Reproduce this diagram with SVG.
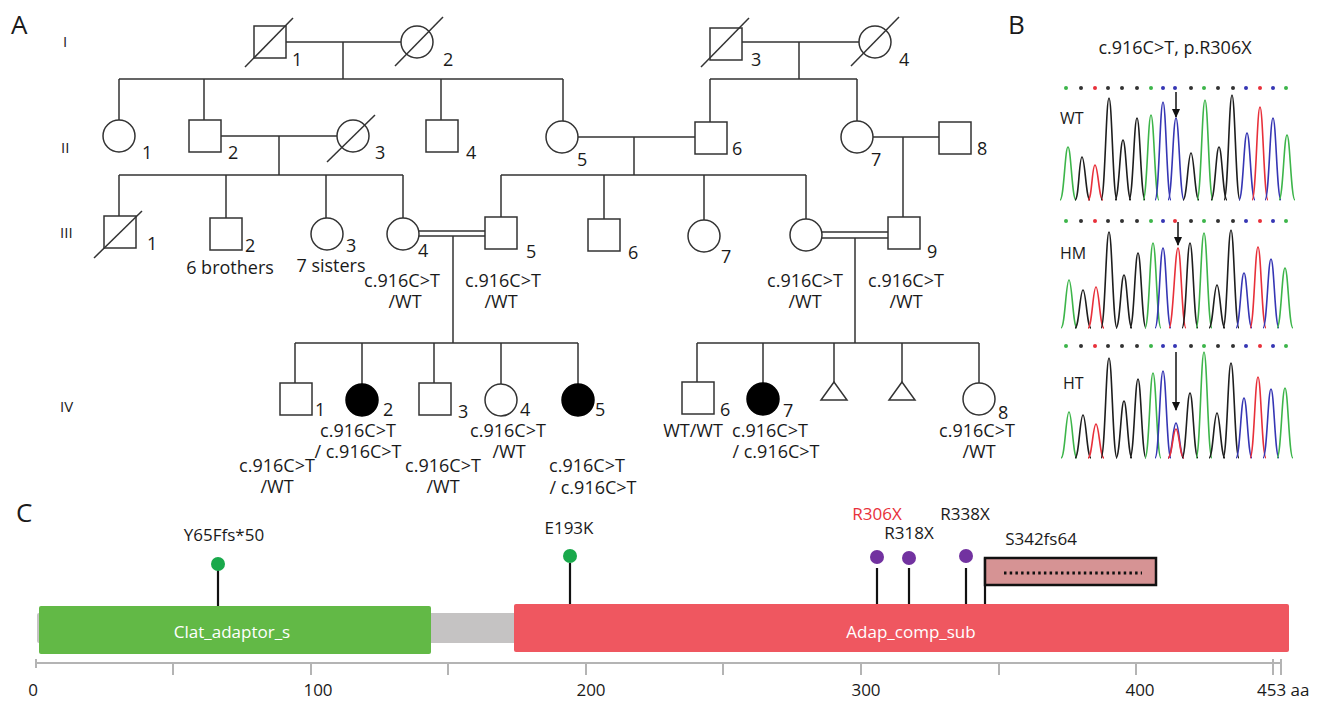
<svg xmlns="http://www.w3.org/2000/svg" width="1322" height="701" viewBox="0 0 1322 701">
<style>
text{font-family:"Open Sans","Noto Sans","Liberation Sans",sans-serif;fill:#1a1a1a}
.sym{fill:#fff;stroke:#333;stroke-width:1.5}
.aff{fill:#000;stroke:#000;stroke-width:1.5}
.ln{fill:none;stroke:#333;stroke-width:1.5}
.t{font-size:18px}
.n{font-size:18px}
.gen{font-size:15px}
.pl{font-size:26px}
.c{text-anchor:middle}
.pk{fill:none;stroke-width:1.6;stroke-linejoin:round}
.A{stroke:#3db54a}.G{stroke:#1e1e1e}.T{stroke:#e8303a}.C{stroke:#3636b4}
.bA{fill:#3db54a}.bG{fill:#333}.bT{fill:#e8303a}.bC{fill:#3636b4}
.tl{font-size:16px}
.stem{stroke:#111;stroke-width:2.2}
.tick{stroke:#b4b4b4;stroke-width:2}
.lb{font-size:17px}
</style>
<defs>
<marker id="ah" markerWidth="9" markerHeight="8" refX="8" refY="4" orient="auto" markerUnits="userSpaceOnUse"><path d="M0,0 L9,4 L0,8 Z" fill="#111"/></marker>
</defs>

<!-- panel labels -->
<text class="pl" x="11" y="34">A</text>
<text class="pl" x="1008" y="34">B</text>
<text class="pl" x="16" y="522">C</text>

<!-- generation numerals -->
<text class="gen" x="63" y="47">I</text>
<text class="gen" x="61" y="153">II</text>
<text class="gen" x="60" y="238">III</text>
<text class="gen" x="60" y="412">IV</text>

<!-- connectors -->
<g id="connectors" class="ln">
<path d="M286,42H401 M343,42V79 M119,79H563 M119,79V120 M204,79V120 M441,79V120 M563,79V121"/>
<path d="M742,42H859 M799,42V79 M710,79H857 M710,79V122 M857,79V121"/>
<path d="M221,136H337 M279,136V175 M119,175H403 M119,175V216 M226,175V218 M326,175V218 M403,175V218"/>
<path d="M578,137H695 M634,137V175 M501,175H806 M501,175V217 M604,175V219 M704,175V220 M806,175V219"/>
<path d="M873,137H939 M903,137V217"/>
<path d="M419,231H485 M419,236H485 M453,236V343"/>
<path d="M822,232H888 M822,238H888 M855,238V343"/>
<path d="M295,343H578 M295,343V383 M362,343V384 M434,343V383 M501,343V384 M578,343V384"/>
<path d="M697,343H979 M697,343V382 M763,343V383 M834,343V382 M902,343V382 M979,343V383"/>
</g>

<!-- Generation I -->
<g id="I-1"><rect class="sym" x="254" y="26" width="32" height="32"/><line class="ln" x1="245" y1="67" x2="293" y2="18"/><text class="n" x="292" y="66">1</text></g>
<g id="I-2"><circle class="sym" cx="417" cy="42" r="16"/><line class="ln" x1="395" y1="66" x2="443" y2="17"/><text class="n" x="443" y="66">2</text></g>
<g id="I-3"><rect class="sym" x="710" y="28" width="32" height="32"/><line class="ln" x1="701" y1="67" x2="749" y2="18"/><text class="n" x="751" y="66">3</text></g>
<g id="I-4"><circle class="sym" cx="875" cy="42" r="16"/><line class="ln" x1="851" y1="66" x2="899" y2="17"/><text class="n" x="899" y="66">4</text></g>

<!-- Generation II -->
<g id="II-1"><circle class="sym" cx="119" cy="136" r="16"/><text class="n" x="142" y="159">1</text></g>
<g id="II-2"><rect class="sym" x="189" y="120" width="32" height="32"/><text class="n" x="228" y="159">2</text></g>
<g id="II-3"><circle class="sym" cx="353" cy="136" r="16"/><line class="ln" x1="327" y1="162" x2="375" y2="115"/><text class="n" x="375" y="159">3</text></g>
<g id="II-4"><rect class="sym" x="426" y="120" width="32" height="32"/><text class="n" x="466" y="159">4</text></g>
<g id="II-5"><circle class="sym" cx="562" cy="137" r="16"/><text class="n" x="577" y="166">5</text></g>
<g id="II-6"><rect class="sym" x="695" y="122" width="32" height="32"/><text class="n" x="732" y="155">6</text></g>
<g id="II-7"><circle class="sym" cx="857" cy="137" r="16"/><text class="n" x="871" y="166">7</text></g>
<g id="II-8"><rect class="sym" x="939" y="122" width="32" height="32"/><text class="n" x="977" y="155">8</text></g>

<!-- Generation III -->
<g id="III-1"><rect class="sym" x="104" y="216" width="32" height="32"/><line class="ln" x1="94" y1="258" x2="142" y2="211"/><text class="n" x="147" y="250">1</text></g>
<g id="III-2"><rect class="sym" x="210" y="218" width="32" height="32"/><text class="n" x="245" y="252">2</text><text class="t c" x="230" y="274">6 brothers</text></g>
<g id="III-3"><circle class="sym" cx="327" cy="234" r="16"/><text class="n" x="346" y="252">3</text><text class="t c" x="331" y="272">7 sisters</text></g>
<g id="III-4"><circle class="sym" cx="403" cy="234" r="16"/><text class="n" x="418" y="257">4</text><text class="t c" x="402" y="287">c.916C&gt;T</text><text class="t c" x="405" y="308">/WT</text></g>
<g id="III-5"><rect class="sym" x="485" y="217" width="32" height="32"/><text class="n" x="526" y="258">5</text><text class="t c" x="503" y="287">c.916C&gt;T</text><text class="t c" x="501" y="308">/WT</text></g>
<g id="III-6"><rect class="sym" x="588" y="219" width="32" height="32"/><text class="n" x="628" y="259">6</text></g>
<g id="III-7"><circle class="sym" cx="704" cy="236" r="16"/><text class="n" x="721" y="263">7</text></g>
<g id="III-8"><circle class="sym" cx="806" cy="235" r="16"/><text class="t c" x="805" y="287">c.916C&gt;T</text><text class="t c" x="805" y="308">/WT</text></g>
<g id="III-9"><rect class="sym" x="888" y="217" width="32" height="32"/><text class="n" x="927" y="258">9</text><text class="t c" x="906" y="287">c.916C&gt;T</text><text class="t c" x="906" y="308">/WT</text></g>

<!-- Generation IV -->
<g id="IV-1"><rect class="sym" x="280" y="383" width="32" height="32"/><text class="n" x="315" y="416">1</text><text class="t c" x="277" y="472">c.916C&gt;T</text><text class="t c" x="277" y="493">/WT</text></g>
<g id="IV-2"><circle class="aff" cx="362" cy="400" r="16"/><text class="n" x="383" y="416">2</text><text class="t c" x="358" y="437">c.916C&gt;T</text><text class="t c" x="358" y="458">/ c.916C&gt;T</text></g>
<g id="IV-3"><rect class="sym" x="419" y="383" width="32" height="32"/><text class="n" x="458" y="418">3</text><text class="t c" x="443" y="472">c.916C&gt;T</text><text class="t c" x="443" y="493">/WT</text></g>
<g id="IV-4"><circle class="sym" cx="501" cy="400" r="16"/><text class="n" x="520" y="416">4</text><text class="t c" x="508" y="437">c.916C&gt;T</text><text class="t c" x="509" y="458">/WT</text></g>
<g id="IV-5"><circle class="aff" cx="578" cy="400" r="16"/><text class="n" x="595" y="416">5</text><text class="t c" x="587" y="472">c.916C&gt;T</text><text class="t c" x="593" y="494">/ c.916C&gt;T</text></g>
<g id="IV-6"><rect class="sym" x="682" y="382" width="32" height="32"/><text class="n" x="720" y="416">6</text><text class="t c" x="693" y="437">WT/WT</text></g>
<g id="IV-7"><circle class="aff" cx="763" cy="399" r="16"/><text class="n" x="783" y="417">7</text><text class="t c" x="770" y="437">c.916C&gt;T</text><text class="t c" x="776" y="458">/ c.916C&gt;T</text></g>
<g id="IV-t1"><polygon class="sym" points="834,382 821,400 847,400"/></g>
<g id="IV-t2"><polygon class="sym" points="902,382 889,400 915,400"/></g>
<g id="IV-8"><circle class="sym" cx="979" cy="399" r="16"/><text class="n" x="998" y="419">8</text><text class="t c" x="977" y="437">c.916C&gt;T</text><text class="t c" x="979" y="458">/WT</text></g>

<!-- Panel B -->
<g id="panelB">
<text class="t c" x="1175" y="54">c.916C&gt;T, p.R306X</text>
<text class="tl" x="1060" y="124">WT</text>
<text class="tl" x="1060" y="259">HM</text>
<text class="tl" x="1063" y="389">HT</text>
<g transform="translate(0,88)">
<circle class="bA" cx="1066" cy="0" r="2"/><circle class="bG" cx="1081" cy="0" r="2"/><circle class="bT" cx="1095" cy="0" r="2"/><circle class="bG" cx="1108" cy="0" r="2"/><circle class="bG" cx="1122" cy="0" r="2"/><circle class="bG" cx="1137" cy="0" r="2"/><circle class="bA" cx="1151" cy="0" r="2"/><circle class="bC" cx="1163" cy="0" r="2"/><circle class="bC" cx="1175" cy="0" r="2"/><circle class="bG" cx="1191" cy="0" r="2"/><circle class="bA" cx="1204" cy="0" r="2"/><circle class="bG" cx="1218" cy="0" r="2"/><circle class="bG" cx="1233" cy="0" r="2"/><circle class="bC" cx="1246" cy="0" r="2"/><circle class="bT" cx="1260" cy="0" r="2"/><circle class="bC" cx="1273" cy="0" r="2"/><circle class="bA" cx="1286" cy="0" r="2"/>
</g>
<g transform="translate(0,221)">
<circle class="bA" cx="1066" cy="0" r="2"/><circle class="bG" cx="1081" cy="0" r="2"/><circle class="bT" cx="1095" cy="0" r="2"/><circle class="bG" cx="1108" cy="0" r="2"/><circle class="bG" cx="1122" cy="0" r="2"/><circle class="bG" cx="1137" cy="0" r="2"/><circle class="bA" cx="1151" cy="0" r="2"/><circle class="bC" cx="1163" cy="0" r="2"/><circle class="bT" cx="1175" cy="0" r="2"/><circle class="bG" cx="1191" cy="0" r="2"/><circle class="bA" cx="1204" cy="0" r="2"/><circle class="bG" cx="1218" cy="0" r="2"/><circle class="bG" cx="1233" cy="0" r="2"/><circle class="bC" cx="1246" cy="0" r="2"/><circle class="bT" cx="1260" cy="0" r="2"/><circle class="bC" cx="1273" cy="0" r="2"/><circle class="bA" cx="1286" cy="0" r="2"/>
</g>
<g transform="translate(0,346)">
<circle class="bA" cx="1066" cy="0" r="2"/><circle class="bG" cx="1081" cy="0" r="2"/><circle class="bT" cx="1095" cy="0" r="2"/><circle class="bG" cx="1108" cy="0" r="2"/><circle class="bG" cx="1122" cy="0" r="2"/><circle class="bG" cx="1137" cy="0" r="2"/><circle class="bA" cx="1151" cy="0" r="2"/><circle class="bC" cx="1163" cy="0" r="2"/><circle class="bC" cx="1175" cy="0" r="2"/><circle class="bG" cx="1191" cy="0" r="2"/><circle class="bA" cx="1204" cy="0" r="2"/><circle class="bG" cx="1218" cy="0" r="2"/><circle class="bG" cx="1233" cy="0" r="2"/><circle class="bC" cx="1246" cy="0" r="2"/><circle class="bT" cx="1260" cy="0" r="2"/><circle class="bC" cx="1273" cy="0" r="2"/><circle class="bA" cx="1286" cy="0" r="2"/>
</g>
<path class="pk A" d="M1060,200 C1064,200 1065,147 1068,147 C1071,147 1072,200 1076,200"/>
<path class="pk G" d="M1075,200 C1079,200 1079,157 1082,157 C1085,157 1086,200 1090,200"/>
<path class="pk T" d="M1088,200 C1092,200 1092,165 1095,165 C1098,165 1099,200 1103,200"/>
<path class="pk G" d="M1101,200 C1105,200 1106,98 1109,98 C1112,98 1113,200 1117,200"/>
<path class="pk G" d="M1115,200 C1119,200 1120,140 1123,140 C1126,140 1127,200 1131,200"/>
<path class="pk G" d="M1129,200 C1133,200 1134,118 1137,118 C1140,118 1141,200 1145,200"/>
<path class="pk A" d="M1143,200 C1147,200 1148,115 1151,115 C1154,115 1155,200 1159,200"/>
<path class="pk C" d="M1155,200 C1159,200 1160,102 1163,102 C1166,102 1167,200 1171,200"/>
<path class="pk C" d="M1168,200 C1172,200 1173,118 1176,118 C1179,118 1180,200 1184,200"/>
<path class="pk G" d="M1183,200 C1187,200 1188,153 1191,153 C1194,153 1195,200 1199,200"/>
<path class="pk A" d="M1197,200 C1201,200 1202,100 1205,100 C1208,100 1209,200 1213,200"/>
<path class="pk G" d="M1211,200 C1215,200 1216,147 1219,147 C1222,147 1223,200 1227,200"/>
<path class="pk G" d="M1224,200 C1228,200 1229,95 1232,95 C1235,95 1236,200 1240,200"/>
<path class="pk C" d="M1239,200 C1243,200 1244,133 1247,133 C1250,133 1251,200 1255,200"/>
<path class="pk T" d="M1252,200 C1256,200 1257,107 1260,107 C1263,107 1264,200 1268,200"/>
<path class="pk C" d="M1265,200 C1269,200 1270,118 1273,118 C1276,118 1277,200 1281,200"/>
<path class="pk A" d="M1279,200 C1283,200 1284,135 1287,135 C1290,135 1291,200 1295,200"/>
<path class="pk A" d="M1061,328 C1065,328 1066,280 1069,280 C1072,280 1073,328 1077,328"/>
<path class="pk G" d="M1075,328 C1079,328 1080,290 1083,290 C1086,290 1087,328 1091,328"/>
<path class="pk T" d="M1088,328 C1092,328 1093,287 1096,287 C1099,287 1100,328 1104,328"/>
<path class="pk G" d="M1101,328 C1105,328 1106,232 1109,232 C1112,232 1113,328 1117,328"/>
<path class="pk G" d="M1116,328 C1120,328 1121,275 1124,275 C1127,275 1128,328 1132,328"/>
<path class="pk G" d="M1130,328 C1134,328 1135,253 1138,253 C1141,253 1142,328 1146,328"/>
<path class="pk A" d="M1145,328 C1149,328 1150,243 1153,243 C1156,243 1157,328 1161,328"/>
<path class="pk C" d="M1155,328 C1159,328 1160,248 1163,248 C1166,248 1167,328 1171,328"/>
<path class="pk T" d="M1169,328 C1173,328 1175,248 1178,248 C1181,248 1182,328 1186,328"/>
<path class="pk G" d="M1182,328 C1186,328 1187,243 1190,243 C1193,243 1194,328 1198,328"/>
<path class="pk A" d="M1196,328 C1200,328 1201,233 1204,233 C1207,233 1208,328 1212,328"/>
<path class="pk G" d="M1209,328 C1213,328 1214,285 1217,285 C1220,285 1221,328 1225,328"/>
<path class="pk G" d="M1223,328 C1227,328 1228,230 1231,230 C1234,230 1235,328 1239,328"/>
<path class="pk C" d="M1236,328 C1240,328 1241,273 1244,273 C1247,273 1248,328 1252,328"/>
<path class="pk T" d="M1250,328 C1254,328 1255,247 1258,247 C1261,247 1262,328 1266,328"/>
<path class="pk C" d="M1263,328 C1267,328 1268,259 1271,259 C1274,259 1275,328 1279,328"/>
<path class="pk A" d="M1277,328 C1281,328 1282,268 1285,268 C1288,268 1289,328 1293,328"/>
<path class="pk A" d="M1061,458 C1065,458 1066,412 1069,412 C1072,412 1073,458 1077,458"/>
<path class="pk G" d="M1075,458 C1079,458 1080,415 1083,415 C1086,415 1087,458 1091,458"/>
<path class="pk T" d="M1088,458 C1092,458 1093,424 1096,424 C1099,424 1100,458 1104,458"/>
<path class="pk G" d="M1101,458 C1105,458 1106,358 1109,358 C1112,358 1113,458 1117,458"/>
<path class="pk G" d="M1116,458 C1120,458 1121,401 1124,401 C1127,401 1128,458 1132,458"/>
<path class="pk G" d="M1130,458 C1134,458 1135,379 1138,379 C1141,379 1142,458 1146,458"/>
<path class="pk A" d="M1145,458 C1149,458 1150,373 1153,373 C1156,373 1157,458 1161,458"/>
<path class="pk C" d="M1155,458 C1159,458 1160,371 1163,371 C1166,371 1167,458 1171,458"/>
<path class="pk C" d="M1168,458 C1172,458 1173,423 1176,423 C1179,423 1180,458 1184,458"/>
<path class="pk T" d="M1168,458 C1172,458 1173,429 1176,429 C1179,429 1180,458 1184,458"/>
<path class="pk G" d="M1182,458 C1186,458 1187,393 1190,393 C1193,393 1194,458 1198,458"/>
<path class="pk A" d="M1196,458 C1200,458 1201,352 1204,352 C1207,352 1208,458 1212,458"/>
<path class="pk G" d="M1209,458 C1213,458 1214,413 1217,413 C1220,413 1221,458 1225,458"/>
<path class="pk G" d="M1223,458 C1227,458 1228,363 1231,363 C1234,363 1235,458 1239,458"/>
<path class="pk C" d="M1236,458 C1240,458 1241,398 1244,398 C1247,398 1248,458 1252,458"/>
<path class="pk T" d="M1250,458 C1254,458 1255,377 1258,377 C1261,377 1262,458 1266,458"/>
<path class="pk C" d="M1263,458 C1267,458 1268,389 1271,389 C1274,389 1275,458 1279,458"/>
<path class="pk A" d="M1277,458 C1281,458 1282,388 1285,388 C1288,388 1289,458 1293,458"/>
<line x1="1176" y1="92" x2="1176" y2="117" stroke="#111" stroke-width="1.5" marker-end="url(#ah)"/>
<line x1="1178" y1="222" x2="1178" y2="245" stroke="#111" stroke-width="1.5" marker-end="url(#ah)"/>
<line x1="1176" y1="352" x2="1176" y2="410" stroke="#111" stroke-width="1.5" marker-end="url(#ah)"/>
</g>

<!-- Panel C -->
<g id="panelC">
<rect x="37" y="613" width="1250" height="30" rx="2" fill="#c5c3c3"/>
<g id="dom-clat"><rect x="39" y="606" width="392" height="48" rx="2" fill="#62b946"/><text class="lb c" x="232" y="638" style="fill:#fff">Clat_adaptor_s</text></g>
<g id="dom-adap"><rect x="514" y="604" width="775" height="48" rx="2" fill="#ef5760"/><text class="lb c" x="911" y="638" style="fill:#fff">Adap_comp_sub</text></g>
<line class="tick" x1="36" y1="663" x2="1282" y2="663"/>
<path class="tick" d="M36,659V668 M173,663V675 M311,663V675 M448,663V675 M586,663V675 M723,663V675 M861,663V675 M999,663V675 M1136,663V675 M1273,659V675 M1281,659V675"/>
<text class="lb c" x="33" y="696">0</text>
<text class="lb c" x="318" y="696">100</text>
<text class="lb c" x="591" y="696">200</text>
<text class="lb c" x="866" y="696">300</text>
<text class="lb c" x="1140" y="696">400</text>
<text class="lb" x="1257" y="696">453 aa</text>
<g id="v-Y65"><line class="stem" x1="218" y1="570" x2="218" y2="606"/><circle cx="218" cy="564" r="7" fill="#19a94b"/><text class="lb c" x="224" y="541">Y65Ffs*50</text></g>
<g id="v-E193K"><line class="stem" x1="570" y1="563" x2="570" y2="604"/><circle cx="570" cy="556" r="7" fill="#19a94b"/><text class="lb c" x="569" y="534">E193K</text></g>
<g id="v-R306X"><line class="stem" x1="877" y1="568" x2="877" y2="604"/><circle cx="877" cy="557" r="7" fill="#7232a0"/><text class="lb c" x="877" y="520" style="fill:#e8303a">R306X</text></g>
<g id="v-R318X"><line class="stem" x1="909" y1="568" x2="909" y2="604"/><circle cx="909" cy="558" r="7" fill="#7232a0"/><text class="lb c" x="909" y="539">R318X</text></g>
<g id="v-R338X"><line class="stem" x1="966" y1="568" x2="966" y2="604"/><circle cx="966" cy="556" r="7" fill="#7232a0"/><text class="lb c" x="965" y="520">R338X</text></g>
<g id="v-S342"><line class="stem" x1="985" y1="558" x2="985" y2="604"/><rect x="985" y="558" width="171" height="27" fill="#d69394" stroke="#111" stroke-width="2.5"/><line x1="1004" y1="573" x2="1142" y2="573" stroke="#111" stroke-width="3" stroke-dasharray="2.5 3.2"/><text class="lb c" x="1041" y="545">S342fs64</text></g>
</g>
</svg>
